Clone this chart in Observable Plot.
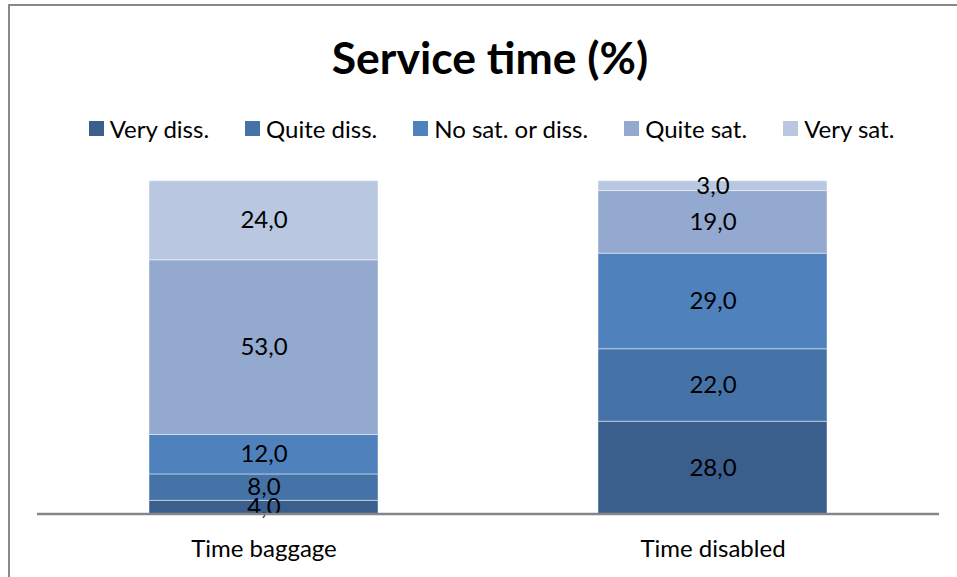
<!DOCTYPE html>
<html>
<head>
<meta charset="utf-8">
<script src="https://cdn.jsdelivr.net/npm/d3@7"></script>
<script src="https://cdn.jsdelivr.net/npm/@observablehq/plot@0.6"></script>
<style>
  html, body { margin: 0; padding: 0; background: #fff; overflow: hidden; }
  #wrap { position: relative; width: 957px; height: 577px; overflow: hidden; font-family: Lato, "Liberation Sans", sans-serif; }
  #frame { position: absolute; left: 8px; top: 4px; width: 1000px; height: 1000px; border-left: 2px solid #898989; border-top: 2px solid #898989; }
  #title { position: absolute; left: 0; top: 0; width: 980px; height: 114px; line-height: 114px; text-align: center; font-size: 44.5px; font-weight: bold; color: #000; }
  #legend { position: absolute; left: 0; top: 114px; width: 983px; height: 28px; display: flex; justify-content: center; align-items: center; gap: 36px; font-size: 24px; color: #000; }
  #legend .item { display: flex; align-items: center; gap: 6px; white-space: nowrap; }
  #legend .sw { width: 15px; height: 15px; display: inline-block; }
  #chart { position: absolute; left: 0; top: 150px; }
</style>
</head>
<body>
<div id="wrap">
  <div id="frame"></div>
  <div id="title">Service time (%)</div>
  <div id="legend"></div>
  <div id="chart"></div>
</div>
<script>
const categories = ["Time baggage", "Time disabled"];
const levels = ["Very diss.", "Quite diss.", "No sat. or diss.", "Quite sat.", "Very sat."];
const timeBaggage = [4, 8, 12, 53, 24];
const timeDisabled = [28, 22, 29, 19, 3];
const colors = ["#3B5F8D", "#4573A8", "#4F81BD", "#93A9CF", "#B9C7E0"];

const data = [];
levels.forEach((lv, i) => {
  data.push({cat: categories[0], level: lv, value: timeBaggage[i]});
  data.push({cat: categories[1], level: lv, value: timeDisabled[i]});
});

const fmt = v => v.toFixed(1).replace(".", ",");

// Legend
const legend = document.getElementById("legend");
levels.forEach((lv, i) => {
  const it = document.createElement("div");
  it.className = "item";
  const sw = document.createElement("span");
  sw.className = "sw";
  sw.style.background = colors[i];
  const t = document.createElement("span");
  t.textContent = lv;
  it.appendChild(sw); it.appendChild(t);
  legend.appendChild(it);
});

const W = 957, H = 427;
const chart = Plot.plot({
  width: W,
  height: H,
  marginLeft: 37,
  marginRight: 18,
  marginTop: 30.7,
  marginBottom: 63.5,
  style: {fontFamily: "Lato, 'Liberation Sans', sans-serif", fontSize: "24px", color: "#000", background: "transparent"},
  x: {domain: categories, paddingInner: 0.489, paddingOuter: 0.247, align: 0.5, label: null, tickSize: 0, tickPadding: 26},
  y: {domain: [0, 101], axis: null},
  color: {domain: levels, range: colors},
  marks: [
    Plot.barY(data, {x: "cat", y: "value", fill: "level", z: "level", stroke: "#ffffff", strokeOpacity: 0.45, strokeWidth: 1}),
    Plot.text(data, Plot.stackY({x: "cat", y: "value", z: "level", text: d => fmt(d.value), fill: "#000", fontSize: 24})),
    Plot.ruleY([0], {stroke: "#868686", strokeWidth: 2.5})
  ]
});
document.getElementById("chart").appendChild(chart);
</script>
</body>
</html>
